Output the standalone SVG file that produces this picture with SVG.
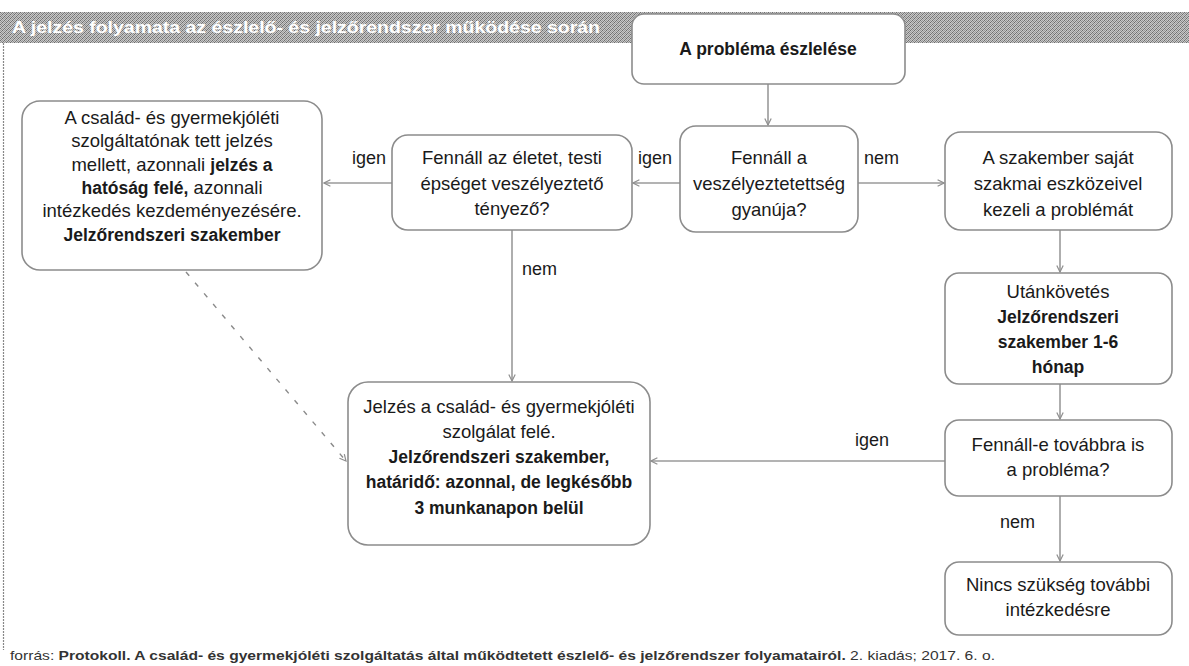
<svg xmlns="http://www.w3.org/2000/svg" width="1189" height="666" viewBox="0 0 1189 666">
<defs>
<pattern id="dither" width="4" height="4" patternUnits="userSpaceOnUse">
<rect width="4" height="4" fill="#c8c8c8"/>
<rect x="0" y="0" width="1" height="1" fill="#6e6e6e"/>
<rect x="2" y="0" width="1" height="1" fill="#9a9a9a"/>
<rect x="1" y="1" width="1" height="1" fill="#8a8a8a"/>
<rect x="3" y="1" width="1" height="1" fill="#777"/>
<rect x="0" y="2" width="1" height="1" fill="#999"/>
<rect x="2" y="2" width="1" height="1" fill="#6a6a6a"/>
<rect x="1" y="3" width="1" height="1" fill="#7d7d7d"/>
<rect x="3" y="3" width="1" height="1" fill="#a0a0a0"/>
</pattern>
<marker id="arr" viewBox="0 0 10 10" refX="9" refY="5" markerWidth="8" markerHeight="8" orient="auto" markerUnits="userSpaceOnUse">
<path d="M1,1 L9,5 L1,9" fill="none" stroke="#8f8f8f" stroke-width="1.5"/>
</marker>
</defs>
<style>
.box{fill:#fff;stroke:#8c8c8c;stroke-width:1.6}
.t{font-family:"Liberation Sans",Arial,sans-serif;font-size:18.5px;fill:#1a1a1a;text-anchor:middle}
.b{font-weight:bold;font-size:17.5px}
.lbl{font-family:"Liberation Sans",Arial,sans-serif;font-size:18px;fill:#1a1a1a}
.c{fill:none;stroke:#9a9a9a;stroke-width:1.6;marker-end:url(#arr)}
.d{fill:none;stroke:#8a8a8a;stroke-width:1.4;stroke-dasharray:5 9;marker-end:url(#arr)}
</style>
<rect width="1189" height="666" fill="#fff"/>
<g id="frame">
<rect x="0" y="12" width="1189" height="31" fill="url(#dither)"/>
<line x1="3.5" y1="43" x2="3.5" y2="650" stroke="#888" stroke-width="1.2" stroke-dasharray="2 1"/>
<text x="12" y="33" font-family="Liberation Sans,Arial,sans-serif" font-size="16" font-weight="bold" fill="#fff" textLength="588" lengthAdjust="spacingAndGlyphs">A jelzés folyamata az észlelő- és jelzőrendszer működése során</text>
</g>
<g id="connectors">
<line class="c" x1="768" y1="84" x2="768" y2="125"/>
<line class="c" x1="680" y1="183" x2="633" y2="183"/>
<line class="c" x1="858" y1="183" x2="944" y2="183"/>
<line class="c" x1="392" y1="183" x2="324" y2="183"/>
<line class="c" x1="512" y1="230" x2="512" y2="381"/>
<line class="c" x1="1060" y1="230" x2="1060" y2="272"/>
<line class="c" x1="1060" y1="384" x2="1060" y2="419"/>
<line class="c" x1="945" y1="461" x2="651" y2="461"/>
<line class="c" x1="1060" y1="496" x2="1060" y2="561"/>
<line class="d" x1="186" y1="272" x2="346" y2="461"/>
<text class="lbl" x="638" y="164">igen</text>
<text class="lbl" x="352" y="164">igen</text>
<text class="lbl" x="864" y="164">nem</text>
<text class="lbl" x="522" y="275">nem</text>
<text class="lbl" x="855" y="446">igen</text>
<text class="lbl" x="1000" y="528">nem</text>
</g>
<g id="n-eszleles">
<rect class="box" x="632" y="14" width="273" height="70" rx="12"/>
<text class="t b" x="768" y="55">A probléma észlelése</text>
</g>
<g id="n-gyanu">
<rect class="box" x="680" y="126" width="178" height="106" rx="16"/>
<text class="t" x="769" y="164">Fennáll a</text>
<text class="t" x="769" y="190">veszélyeztetettség</text>
<text class="t" x="769" y="216">gyanúja?</text>
</g>
<g id="n-sajat">
<rect class="box" x="945" y="132" width="227" height="98" rx="16"/>
<text class="t" x="1058" y="164">A szakember saját</text>
<text class="t" x="1058" y="190">szakmai eszközeivel</text>
<text class="t" x="1058" y="216">kezeli a problémát</text>
</g>
<g id="n-eletet">
<rect class="box" x="392" y="135" width="240" height="95" rx="16"/>
<text class="t" x="512" y="164">Fennáll az életet, testi</text>
<text class="t" x="512" y="190">épséget veszélyeztető</text>
<text class="t" x="512" y="215">tényező?</text>
</g>
<g id="n-hatosag">
<rect class="box" x="22" y="101" width="300" height="169" rx="18"/>
<text class="t" x="172" y="124">A család- és gyermekjóléti</text>
<text class="t" x="172" y="147">szolgáltatónak tett jelzés</text>
<text class="t" x="172" y="171">mellett, azonnali <tspan class="b">jelzés a</tspan></text>
<text class="t" x="172" y="194"><tspan class="b">hatóság felé,</tspan> azonnali</text>
<text class="t" x="172" y="217">intézkedés kezdeményezésére.</text>
<text class="t b" x="172" y="241">Jelzőrendszeri szakember</text>
</g>
<g id="n-jelzes">
<rect class="box" x="348" y="382" width="302" height="163" rx="20"/>
<text class="t" x="499" y="413">Jelzés a család- és gyermekjóléti</text>
<text class="t" x="499" y="438">szolgálat felé.</text>
<text class="t b" x="499" y="463">Jelzőrendszeri szakember,</text>
<text class="t b" x="499" y="488">határidő: azonnal, de legkésőbb</text>
<text class="t b" x="499" y="514">3 munkanapon belül</text>
</g>
<g id="n-utankovetes">
<rect class="box" x="945" y="273" width="227" height="111" rx="14"/>
<text class="t" x="1058" y="298">Utánkövetés</text>
<text class="t b" x="1058" y="323">Jelzőrendszeri</text>
<text class="t b" x="1058" y="348">szakember 1-6</text>
<text class="t b" x="1058" y="373">hónap</text>
</g>
<g id="n-fennall-e">
<rect class="box" x="945" y="420" width="227" height="76" rx="14"/>
<text class="t" x="1058" y="451">Fennáll-e továbbra is</text>
<text class="t" x="1058" y="476">a probléma?</text>
</g>
<g id="n-nincs">
<rect class="box" x="945" y="562" width="227" height="73" rx="14"/>
<text class="t" x="1058" y="591">Nincs szükség további</text>
<text class="t" x="1058" y="616">intézkedésre</text>
</g>
<g id="footer">
<text x="10" y="660" font-family="Liberation Sans,Arial,sans-serif" font-size="13" fill="#333" textLength="985" lengthAdjust="spacingAndGlyphs">forrás: <tspan font-weight="bold">Protokoll. A család- és gyermekjóléti szolgáltatás által működtetett észlelő- és jelzőrendszer folyamatairól.</tspan> 2. kiadás; 2017. 6. o.</text>
</g>
</svg>
